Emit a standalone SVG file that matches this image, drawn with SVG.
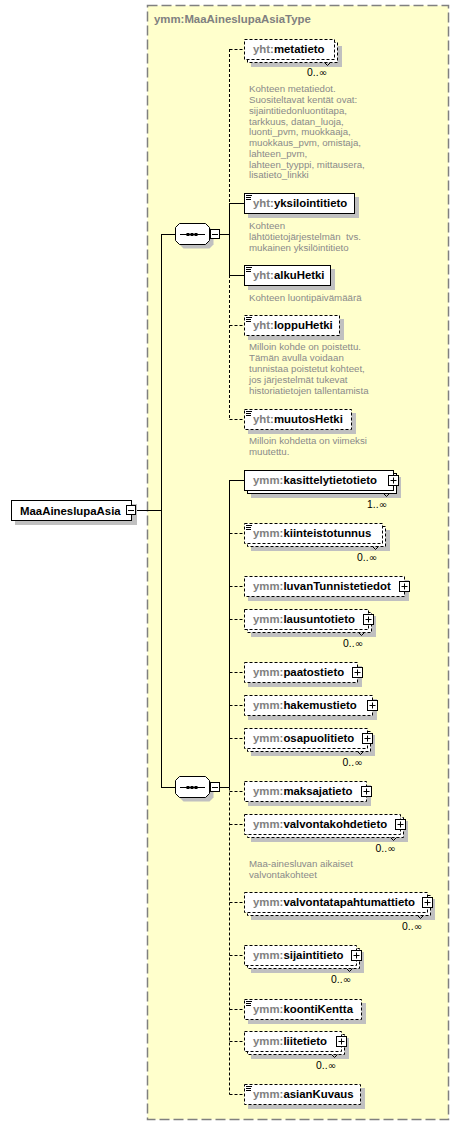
<svg xmlns="http://www.w3.org/2000/svg" width="459" height="1126" viewBox="0 0 459 1126">
<style>
.bx{fill:#fff;stroke:#000;stroke-width:1}
.d{stroke-dasharray:3,2}
.sh{fill:#c0c0c0}
.lbl{font-family:"Liberation Sans",Arial,sans-serif;font-weight:bold;font-size:11.4px;fill:#000}
.pfx{fill:#808080}
.desc{font-family:"Liberation Sans",Arial,sans-serif;font-size:9.7px;fill:#8a8a8a}
.occ{font-family:"Liberation Sans",Arial,sans-serif;font-size:10.4px;fill:#000;text-anchor:end}
.inf{font-family:"DejaVu Sans",sans-serif;font-size:10px}
.ln{stroke:#000;stroke-width:1;fill:none}
</style>
<defs>
<g id="plus"><rect x="0.5" y="0.5" width="10" height="10" fill="#fff" stroke="#000"/><path d="M2.5 5.5h6M5.5 2.5v6" stroke="#000"/></g>
<g id="minus"><rect x="0.5" y="0.5" width="9" height="9" fill="#fff" stroke="#000"/><path d="M2 5.5h6" stroke="#000"/></g>
<path id="icon" d="M246 2.5h6M246 4.5h5M246 6.5h5" stroke="#000"/>
<g id="seq">
<polygon points="183.5,-6.5 209.5,-6.5 213.5,-2.5 213.5,10.5 209.5,14.5 183.5,14.5 179.5,10.5 179.5,-2.5" fill="#c0c0c0"/>
<polygon points="179.5,-10.5 205.5,-10.5 209.5,-6.5 209.5,6.5 205.5,10.5 179.5,10.5 175.5,6.5 175.5,-6.5" fill="#fff" stroke="#000"/>
<path d="M180 0.5h25" stroke="#000"/>
<rect x="186.5" y="-1" width="3" height="3" fill="#000"/>
<rect x="190.5" y="-1" width="3" height="3" fill="#000"/>
<rect x="194.5" y="-1" width="3" height="3" fill="#000"/>
</g>
</defs>

<g id="container">
<rect x="147.5" y="5.5" width="301" height="1114" fill="#ffffcc" stroke="#808080" stroke-width="1.5" stroke-dasharray="10,4"/>
<text x="154" y="23" class="lbl" style="fill:#808080">ymm:MaaAineslupaAsiaType</text>
</g>

<g id="connectors">
<path class="ln" d="M136 510.5H161.5M161.5 234V788M161 234.5H176M161 787.5H176M219.5 234.5H229.5M219.5 787.5H229.5"/>
<path class="ln" d="M229.5 203V275M229.5 480V787.5"/>
<path class="ln d" d="M229.5 49V203M229.5 275V419.5M229.5 787.5V1094.5"/>
<path class="ln" d="M229.5 203.5H244M229.5 275.5H244M229.5 480.5H244"/>
<path class="ln d" d="M229.5 49.5H244M229.5 325.5H244M229.5 419.5H244M229.5 533.5H244M229.5 586.5H244M229.5 619.5H244M229.5 672.5H244M229.5 705.5H244M229.5 738.5H244M229.5 791.5H244M229.5 824.5H244M229.5 902.5H244M229.5 955.5H244M229.5 1009.5H244M229.5 1041.5H244M229.5 1094.5H244"/>
</g>

<g id="MaaAineslupaAsia">
<rect x="15" y="504" width="122" height="21" class="sh"/>
<rect x="11.5" y="500.5" width="120" height="20" class="bx"/>
<text x="20" y="514.5" class="lbl">MaaAineslupaAsia</text>
<use href="#minus" x="126" y="505"/>
</g>

<g id="sequence1">
<use href="#seq" y="234"/>
<use href="#minus" x="210" y="229"/>
</g>

<g id="sequence2">
<use href="#seq" y="787"/>
<use href="#minus" x="210" y="782"/>
</g>

<g id="metatieto">
<rect x="251" y="46" width="91" height="21" class="sh"/>
<rect x="247.5" y="42.5" width="90" height="20" class="bx d"/>
<path class="ln" d="M324.5 62.5l3 3l3 -3"/>
<rect x="244.5" y="39.5" width="90" height="20" class="bx d"/>
<text x="253" y="53" class="lbl"><tspan class="pfx">yht:</tspan>metatieto</text>
<text x="327" y="75.5" class="occ">0..<tspan class="inf">∞</tspan></text>
<text class="desc"><tspan x="249" y="92.3">Kohteen metatiedot.</tspan><tspan x="249" y="103.05">Suositeltavat kentät ovat:</tspan><tspan x="249" y="113.8">sijaintitiedonluontitapa,</tspan><tspan x="249" y="124.55">tarkkuus, datan_luoja,</tspan><tspan x="249" y="135.3">luonti_pvm, muokkaaja,</tspan><tspan x="249" y="146.05">muokkaus_pvm, omistaja,</tspan><tspan x="249" y="156.8">lahteen_pvm,</tspan><tspan x="249" y="167.55">lahteen_tyyppi, mittausera,</tspan><tspan x="249" y="178.3">lisatieto_linkki</tspan></text>
</g>

<g id="yksilointitieto">
<rect x="248" y="197" width="111" height="21" class="sh"/>
<rect x="244.5" y="193.5" width="110" height="20" class="bx"/>
<use href="#icon" y="193"/>
<text x="253" y="207" class="lbl"><tspan class="pfx">yht:</tspan>yksilointitieto</text>
<text class="desc"><tspan x="249" y="228.7">Kohteen</tspan><tspan x="249" y="239.7">lähtötietojärjestelmän&#160; tvs.</tspan><tspan x="249" y="250.7">mukainen yksilöintitieto</tspan></text>
</g>

<g id="alkuHetki">
<rect x="248" y="269" width="87" height="21" class="sh"/>
<rect x="244.5" y="265.5" width="86" height="20" class="bx"/>
<use href="#icon" y="265"/>
<text x="253" y="279" class="lbl"><tspan class="pfx">yht:</tspan>alkuHetki</text>
<text x="249" y="300.7" class="desc">Kohteen luontipäivämäärä</text>
</g>

<g id="loppuHetki">
<rect x="248" y="319" width="96" height="21" class="sh"/>
<rect x="244.5" y="315.5" width="95" height="20" class="bx d"/>
<use href="#icon" y="315"/>
<text x="253" y="329" class="lbl"><tspan class="pfx">yht:</tspan>loppuHetki</text>
<text class="desc"><tspan x="249" y="349.7">Milloin kohde on poistettu.</tspan><tspan x="249" y="360.7">Tämän avulla voidaan</tspan><tspan x="249" y="371.7">tunnistaa poistetut kohteet,</tspan><tspan x="249" y="382.7">jos järjestelmät tukevat</tspan><tspan x="249" y="393.7">historiatietojen tallentamista</tspan></text>
</g>

<g id="muutosHetki">
<rect x="248" y="413" width="108" height="21" class="sh"/>
<rect x="244.5" y="409.5" width="107" height="20" class="bx d"/>
<use href="#icon" y="409"/>
<text x="253" y="423" class="lbl"><tspan class="pfx">yht:</tspan>muutosHetki</text>
<text class="desc"><tspan x="249" y="444">Milloin kohdetta on viimeksi</tspan><tspan x="249" y="455.3">muutettu.</tspan></text>
</g>

<g id="kasittelytietotieto">
<rect x="251" y="477" width="150" height="21" class="sh"/>
<rect x="247.5" y="473.5" width="149" height="20" class="bx"/>
<path class="ln" d="M383.5 493.5l3 3l3 -3"/>
<rect x="244.5" y="470.5" width="149" height="20" class="bx"/>
<text x="253" y="484" class="lbl"><tspan class="pfx">ymm:</tspan>kasittelytietotieto</text>
<use href="#plus" x="388" y="475"/>
<text x="387" y="508" class="occ">1..<tspan class="inf">∞</tspan></text>
</g>

<g id="kiinteistotunnus">
<rect x="251" y="530" width="139" height="21" class="sh"/>
<rect x="247.5" y="526.5" width="138" height="20" class="bx d"/>
<path class="ln" d="M372.5 546.5l3 3l3 -3"/>
<rect x="244.5" y="523.5" width="138" height="20" class="bx d"/>
<use href="#icon" y="523"/>
<text x="253" y="537" class="lbl"><tspan class="pfx">ymm:</tspan>kiinteistotunnus</text>
<text x="377" y="560.5" class="occ">0..<tspan class="inf">∞</tspan></text>
</g>

<g id="luvanTunnistetiedot">
<rect x="248" y="580" width="161" height="21" class="sh"/>
<rect x="244.5" y="576.5" width="160" height="20" class="bx d"/>
<text x="253" y="590" class="lbl"><tspan class="pfx">ymm:</tspan>luvanTunnistetiedot</text>
<use href="#plus" x="399" y="581"/>
</g>

<g id="lausuntotieto">
<rect x="251" y="616" width="125" height="21" class="sh"/>
<rect x="247.5" y="612.5" width="124" height="20" class="bx d"/>
<path class="ln" d="M358.5 632.5l3 3l3 -3"/>
<rect x="244.5" y="609.5" width="124" height="20" class="bx d"/>
<text x="253" y="623" class="lbl"><tspan class="pfx">ymm:</tspan>lausuntotieto</text>
<use href="#plus" x="363" y="614"/>
<text x="363" y="647" class="occ">0..<tspan class="inf">∞</tspan></text>
</g>

<g id="paatostieto">
<rect x="248" y="666" width="114" height="21" class="sh"/>
<rect x="244.5" y="662.5" width="113" height="20" class="bx d"/>
<text x="253" y="676" class="lbl"><tspan class="pfx">ymm:</tspan>paatostieto</text>
<use href="#plus" x="352" y="667"/>
</g>

<g id="hakemustieto">
<rect x="248" y="699" width="129" height="21" class="sh"/>
<rect x="244.5" y="695.5" width="128" height="20" class="bx d"/>
<text x="253" y="709" class="lbl"><tspan class="pfx">ymm:</tspan>hakemustieto</text>
<use href="#plus" x="367" y="700"/>
</g>

<g id="osapuolitieto">
<rect x="251" y="735" width="124" height="21" class="sh"/>
<rect x="247.5" y="731.5" width="123" height="20" class="bx d"/>
<path class="ln" d="M357.5 751.5l3 3l3 -3"/>
<rect x="244.5" y="728.5" width="123" height="20" class="bx d"/>
<text x="253" y="742" class="lbl"><tspan class="pfx">ymm:</tspan>osapuolitieto</text>
<use href="#plus" x="362" y="733"/>
<text x="362.5" y="766" class="occ">0..<tspan class="inf">∞</tspan></text>
</g>

<g id="maksajatieto">
<rect x="248" y="785" width="123" height="21" class="sh"/>
<rect x="244.5" y="781.5" width="122" height="20" class="bx d"/>
<text x="253" y="795" class="lbl"><tspan class="pfx">ymm:</tspan>maksajatieto</text>
<use href="#plus" x="361" y="786"/>
</g>

<g id="valvontakohdetieto">
<rect x="251" y="821" width="157" height="21" class="sh"/>
<rect x="247.5" y="817.5" width="156" height="20" class="bx d"/>
<path class="ln" d="M390.5 837.5l3 3l3 -3"/>
<rect x="244.5" y="814.5" width="156" height="20" class="bx d"/>
<text x="253" y="828" class="lbl"><tspan class="pfx">ymm:</tspan>valvontakohdetieto</text>
<use href="#plus" x="395" y="819"/>
<text x="395.5" y="852" class="occ">0..<tspan class="inf">∞</tspan></text>
<text class="desc"><tspan x="249" y="867">Maa-ainesluvan aikaiset</tspan><tspan x="249" y="878">valvontakohteet</tspan></text>
</g>

<g id="valvontatapahtumattieto">
<rect x="251" y="899" width="184" height="21" class="sh"/>
<rect x="247.5" y="895.5" width="183" height="20" class="bx d"/>
<path class="ln" d="M417.5 915.5l3 3l3 -3"/>
<rect x="244.5" y="892.5" width="183" height="20" class="bx d"/>
<text x="253" y="906" class="lbl"><tspan class="pfx">ymm:</tspan>valvontatapahtumattieto</text>
<use href="#plus" x="422" y="897"/>
<text x="422" y="929.5" class="occ">0..<tspan class="inf">∞</tspan></text>
</g>

<g id="sijaintitieto">
<rect x="251" y="952" width="113" height="21" class="sh"/>
<rect x="247.5" y="948.5" width="112" height="20" class="bx d"/>
<path class="ln" d="M346.5 968.5l3 3l3 -3"/>
<rect x="244.5" y="945.5" width="112" height="20" class="bx d"/>
<text x="253" y="959" class="lbl"><tspan class="pfx">ymm:</tspan>sijaintitieto</text>
<use href="#plus" x="351" y="950"/>
<text x="351" y="983" class="occ">0..<tspan class="inf">∞</tspan></text>
</g>

<g id="koontiKentta">
<rect x="248" y="1003" width="118" height="21" class="sh"/>
<rect x="244.5" y="999.5" width="117" height="20" class="bx d"/>
<use href="#icon" y="999"/>
<text x="253" y="1013" class="lbl"><tspan class="pfx">ymm:</tspan>koontiKentta</text>
</g>

<g id="liitetieto">
<rect x="251" y="1038" width="98" height="21" class="sh"/>
<rect x="247.5" y="1034.5" width="97" height="20" class="bx d"/>
<path class="ln" d="M331.5 1054.5l3 3l3 -3"/>
<rect x="244.5" y="1031.5" width="97" height="20" class="bx d"/>
<text x="253" y="1045" class="lbl"><tspan class="pfx">ymm:</tspan>liitetieto</text>
<use href="#plus" x="336" y="1036"/>
<text x="336" y="1069" class="occ">0..<tspan class="inf">∞</tspan></text>
</g>

<g id="asianKuvaus">
<rect x="248" y="1088" width="117" height="21" class="sh"/>
<rect x="244.5" y="1084.5" width="116" height="20" class="bx d"/>
<use href="#icon" y="1084"/>
<text x="253" y="1098" class="lbl"><tspan class="pfx">ymm:</tspan>asianKuvaus</text>
</g>
</svg>
